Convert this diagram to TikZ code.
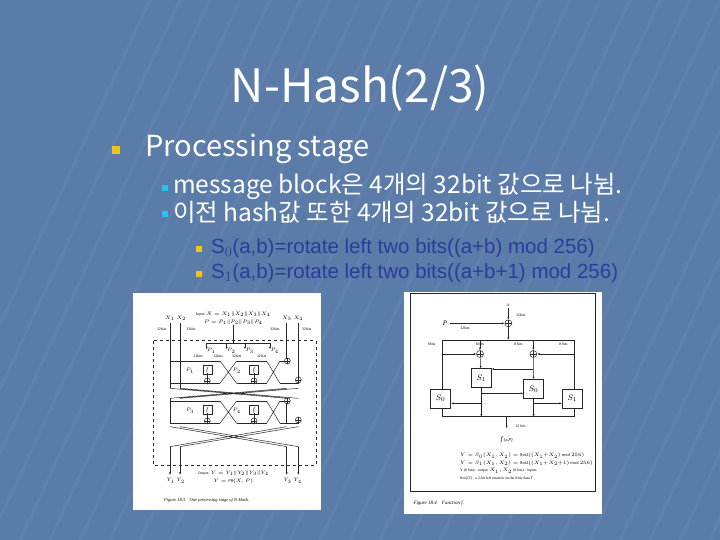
\documentclass[tikz,border=0pt]{standalone}
\usepackage{fontspec}
\setmainfont{Noto Sans CJK KR}
\newfontfamily\arialf{Liberation Sans}
\newfontfamily\serf{Liberation Serif}
\usetikzlibrary{arrows.meta}
\definecolor{bg}{HTML}{5B7BA8}
\definecolor{ylw}{HTML}{F2C21E}
\definecolor{cyn}{HTML}{22C4F2}
\definecolor{dblue}{HTML}{2B3D9C}
\tikzset{
  txt/.style={text=white,anchor=west,inner sep=0pt},
  bul/.style={minimum size=#1,inner sep=0pt,draw=none},
  tiny/.style={font=\serf\fontsize{3.8}{4}\selectfont,inner sep=0pt},
  ln/.style={line width=0.5pt,black!85},
  ar/.style={ln,-{Latex[length=2.5pt,width=2pt]}},
  xo/.style={circle,draw=black!85,line width=0.5pt,minimum size=6pt,inner sep=0pt,path picture={\draw[black!85,line width=0.4pt] (path picture bounding box.north)--(path picture bounding box.south) (path picture bounding box.west)--(path picture bounding box.east);}},
  fb/.style={draw=black!85,line width=0.6pt,fill=white,minimum size=9pt,inner sep=0pt,font=\serf\itshape\fontsize{6}{6}\selectfont},
  sb/.style={draw=black!85,line width=0.7pt,fill=white,minimum width=20pt,minimum height=19pt,inner sep=0pt,font=\serf\itshape\fontsize{8}{8}\selectfont}
}
\begin{document}
\begin{tikzpicture}[x=1pt,y=-1pt]
\fill[bg] (0,0) rectangle (720,540);
\useasboundingbox (0,0) rectangle (720,540);
\foreach \i in {0,...,30}{\draw[white,opacity=0.04,line width=3pt] (\i*30-100,540) -- (\i*30+150,0);}
\node[text=white,font=\fontsize{46}{48}\selectfont] (title) at (360,88) {N-Hash(2/3)};
\node[bul=8pt,fill=ylw] (b1) at (116,150) {};
\node[txt,font=\fontsize{29}{31}\selectfont] (t1) at (145,149) {Processing stage};
\node[bul=6pt,fill=cyn] (b2) at (165,188) {};
\node[txt,font=\fontsize{24.5}{26}\selectfont] (t2) at (173,186) {message block은 4개의 32bit 값으로 나뉨.};
\node[bul=6pt,fill=cyn] (b3) at (165,214) {};
\node[txt,font=\fontsize{24.5}{26}\selectfont] (t3) at (173,212) {이전 hash값 또한 4개의 32bit 값으로 나뉨.};
\node[bul=6pt,fill=ylw] (b4) at (199,249) {};
\node[txt,text=dblue,font=\arialf\fontsize{20.5}{22}\selectfont] (t4) at (211,248) {S$_0$(a,b)=rotate left two bits((a+b) mod 256)};
\node[bul=6pt,fill=ylw] (b5) at (199,274) {};
\node[txt,text=dblue,font=\arialf\fontsize{20.5}{22}\selectfont] (t5) at (211,273) {S$_1$(a,b)=rotate left two bits((a+b+1) mod 256)};
% left figure
\fill[white] (133,293) rectangle (321,510);
\begin{scope}[shift={(130,290)},x=0.3333pt,y=-0.3333pt]
\node[tiny] (in1) at (310,72) {Input: $X=X_1\|X_2\|X_3\|X_4$};
\node[tiny] (in2) at (310,97) {$P=P_1\|P_2\|P_3\|P_4$};
\node[tiny] at (137,85) {$X_1\;X_2$};
\node[tiny] at (488,85) {$X_3\;X_4$};
\foreach \a/\b in {95/117,183/117,435/117,530/117}{\node[tiny] at (\a,\b) {32bits};}
\draw[ln,dashed] (70,152) rectangle (558,525);
\draw[ln] (310,105)--(310,160) (230,160)--(420,160);
\foreach \x/\k in {230/1,290/2,345/3,420/4}{\draw[ar] (\x,160)--(\x,178); \node[tiny] at (\x+14,182) {$P_\k$}; \node[tiny] at (\x-25,198) {32bits};}
\foreach \yo in {0,120}{
 \draw[ln] (120,213+\yo)--(270,213+\yo) (320,213+\yo)--(410,213+\yo);
 \draw[ln] (120,280+\yo)--(270,280+\yo) (320,280+\yo)--(410,280+\yo);
 \draw[ln] (270,213+\yo)--(320,280+\yo) (270,280+\yo)--(320,213+\yo);
 \draw[ln] (410,213+\yo)--(450,280+\yo) (410,280+\yo)--(450,213+\yo);
 \node[fb] at (232,240+\yo) {f}; \node[fb] at (372,240+\yo) {f};
 \node[xo] at (232,273+\yo) {}; \node[xo] at (372,273+\yo) {};
 \draw[ln] (232,250+\yo)--(232,266+\yo) (372,250+\yo)--(372,266+\yo);
 \node[xo] at (472,213+\yo) {}; \node[xo] at (505,270+\yo) {};
 \draw[ln] (450,213+\yo)--(468,213+\yo) (450,280+\yo)--(505,280+\yo)--(505,275+\yo);
}
\node[tiny] at (180,242) {$P_1$}; \node[tiny] at (320,242) {$P_2$};
\node[tiny] at (180,362) {$P_3$}; \node[tiny] at (320,362) {$P_4$};
\draw[ln] (120,100)--(120,295) (150,100)--(150,295) (470,100)--(470,207) (505,100)--(505,265);
\draw[ln] (120,295)--(470,325) (150,295)--(505,325) (470,295)--(120,325) (505,295)--(150,325);
\draw[ln] (120,325)--(120,400) (470,340)--(470,400);
\draw[ln] (120,410)--(470,470) (150,410)--(505,470) (470,410)--(120,470) (505,410)--(150,470);
\foreach \x in {120,150,470,505}{\draw[ar] (\x,470)--(\x,555);}
\node[tiny] at (137,572) {$Y_1\;Y_2$}; \node[tiny] at (488,572) {$Y_3\;Y_4$};
\node[tiny] at (310,550) {Output: $Y=Y_1\|Y_2\|Y_3\|Y_4$};
\node[tiny] at (310,575) {$Y=\mathrm{PR}(X,P)$};
\node[tiny,font=\serf\itshape\fontsize{4.5}{5}\selectfont] at (230,632) {Figure 18.3\quad One processing stage of N-Hash.};
\end{scope}
% right figure
\fill[white] (404,292) rectangle (602,514);
\begin{scope}[shift={(400,290)},x=0.3333pt,y=-0.3333pt]
\draw[ln] (32,10) rectangle (585,605);
\node[xo,minimum size=7pt] (cx) at (325,100) {};
\node[tiny,font=\serf\itshape\fontsize{5}{5}\selectfont] at (325,45) {x};
\draw[ar] (325,55)--(cx);
\node[tiny] at (362,75) {32bits};
\node[tiny,font=\serf\itshape\fontsize{7}{7}\selectfont] at (135,100) {P};
\draw[ar] (150,100)--(cx); \node[tiny] at (195,115) {32bits};
\draw[ar] (cx)--(325,150);
\draw[ln] (128,150) rectangle (522,380);
\foreach \x/\t in {95/8bits,240/8 bits,355/8 bits,490/8 bits}{\node[tiny] at (\x,162) {\t};}
\node[xo,minimum size=7pt] (c1) at (240,192) {};
\node[xo,minimum size=7pt] (c2) at (400,192) {};
\draw[ar] (240,150)--(c1); \draw[ar] (400,150)--(c2);
\draw[ar] (128,192)--(c1); \draw[ar] (522,192)--(c2);
\node[sb] (s1) at (244,265) {$S_1$};
\node[sb] (s0m) at (401,297) {$S_0$};
\node[sb] (s0) at (122,326) {$S_0$};
\node[sb] (s1r) at (517,326) {$S_1$};
\draw[ar] (c1)--(s1); \draw[ar] (c2)--(s0m);
\draw[ar] (400,237)--(s1.east|-0,237);
\draw[ar] (244,310)--(s0m.west|-0,310);
\draw[ar] (244,340)--(s0.east|-0,340);
\draw[ar] (401,340)--(s1r.west|-0,340);
\draw[ln] (s1.south)--(244,380); \draw[ln] (s0m.south)--(401,380);
\draw[ar] (244,360)--(244,380); \draw[ar] (401,360)--(401,380);
\draw[ar] (320,380)--(320,415); \node[tiny] at (362,408) {32 bits};
\node[tiny,font=\serf\itshape\fontsize{7}{7}\selectfont] at (320,450) {f\,{\fontsize{4.5}{5}\selectfont(x,P)}};
\node[tiny,anchor=west] at (180,497) {$Y=S_0(X_1,X_2)=\mathrm{Rot2}((X_1{+}X_2)\,\mathrm{mod}\,256)$};
\node[tiny,anchor=west] at (180,520) {$Y=S_1(X_1,X_2)=\mathrm{Rot2}((X_1{+}X_2{+}1)\,\mathrm{mod}\,256)$};
\node[tiny,anchor=west] at (180,543) {Y (8 bits) : output, $X_1,X_2$ (8 bits) : inputs};
\node[tiny,anchor=west] at (180,567) {Rot2(T) : a 2-bit left rotation on the 8-bit data T};
\node[tiny,anchor=west,font=\serf\itshape\fontsize{5}{5}\selectfont] at (40,640) {Figure 18.4\quad Function f.};
\end{scope}
\end{tikzpicture}
\end{document}
